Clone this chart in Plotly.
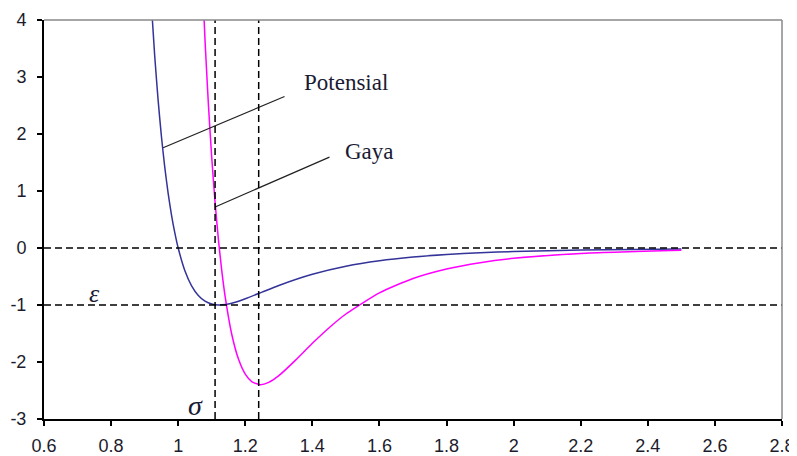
import plotly.graph_objects as go

# ---- data ----
pot_x = [0.92, 0.93, 0.94, 0.95, 0.96, 0.97, 0.98, 0.99, 1.0, 1.02, 1.04, 1.06, 1.08,
         1.1, 1.12, 1.14, 1.17, 1.2, 1.25, 1.3, 1.4, 1.5, 1.6, 1.7, 1.8, 1.9, 2.0, 2.2, 2.5]
pot_y = [4.28, 3.373, 2.607, 1.961, 1.418, 0.963, 0.582, 0.264, 0.0, -0.398, -0.663, -0.832, -0.932,
         -0.983, -1.0, -0.992, -0.952, -0.891, -0.774, -0.657, -0.461, -0.320, -0.224, -0.159, -0.114,
         -0.083, -0.0615, -0.035, -0.0163]

force_x = [1.07, 1.08, 1.09, 1.1, 1.11, 1.12, 1.13, 1.14, 1.16, 1.18, 1.2, 1.22, 1.244, 1.27,
           1.3, 1.35, 1.4, 1.45, 1.5, 1.6, 1.7, 1.8, 1.9, 2.0, 2.2, 2.5]
force_y = [4.97, 3.647, 2.529, 1.589, 0.800, 0.143, -0.402, -0.852, -1.522, -1.953, -2.212, -2.347,
           -2.397, -2.357, -2.240, -1.967, -1.672, -1.398, -1.158, -0.787, -0.536, -0.369, -0.257,
           -0.1816, -0.0945, -0.0391]

x_ticks = [0.6, 0.8, 1.0, 1.2, 1.4, 1.6, 1.8, 2.0, 2.2, 2.4, 2.6, 2.8]
x_tick_labels = ["0.6", "0.8", "1", "1.2", "1.4", "1.6", "1.8", "2", "2.2", "2.4", "2.6", "2.8"]
y_ticks = [-3, -2, -1, 0, 1, 2, 3, 4]
y_tick_labels = ["-3", "-2", "-1", "0", "1", "2", "3", "4"]

sigma_x = 1.11     # vertical reference at sigma
fmin_x = 1.24      # vertical reference at force minimum
eps_y = -1.0       # horizontal reference at epsilon
zero_y = 0.0

pot_leader = ([0.955, 1.317], [1.76, 2.657])
force_leader = ([1.11, 1.451], [0.72, 1.594])

# ---- figure ----
fig = go.Figure()

dash = "7px,4px"
for yv in (zero_y, eps_y):
    fig.add_shape(type="line", xref="paper", yref="y", x0=0, x1=1, y0=yv, y1=yv,
                  line=dict(color="black", width=1.5, dash=dash), layer="above")
for xv in (sigma_x, fmin_x):
    fig.add_shape(type="line", xref="x", yref="paper", x0=xv, x1=xv, y0=0, y1=1,
                  line=dict(color="black", width=1.5, dash=dash), layer="above")

# plot-area border (top and right) in gray
fig.add_shape(type="line", xref="paper", yref="paper", x0=0, x1=1, y0=1, y1=1,
              line=dict(color="#888888", width=1.5))
fig.add_shape(type="line", xref="paper", yref="paper", x0=1, x1=1, y0=0, y1=1,
              line=dict(color="#888888", width=1.5))

fig.add_trace(go.Scatter(x=pot_x, y=pot_y, mode="lines", name="Potensial",
                         line=dict(color="#333399", width=1.5, shape="spline", smoothing=0.6)))
fig.add_trace(go.Scatter(x=force_x, y=force_y, mode="lines", name="Gaya",
                         line=dict(color="#ff00ff", width=1.5, shape="spline", smoothing=0.6)))

fig.add_trace(go.Scatter(x=pot_leader[0], y=pot_leader[1], mode="lines", showlegend=False,
                         line=dict(color="#222222", width=1.2)))
fig.add_trace(go.Scatter(x=force_leader[0], y=force_leader[1], mode="lines", showlegend=False,
                         line=dict(color="#222222", width=1.2)))

serif = "Liberation Serif, Times New Roman, serif"
fig.add_annotation(x=1.499, y=2.9, text="Potensial", showarrow=False,
                   font=dict(family=serif, size=23, color="#1a1a33"))
fig.add_annotation(x=1.57, y=1.69, text="Gaya", showarrow=False,
                   font=dict(family=serif, size=23, color="#1a1a33"))
fig.add_annotation(x=0.752, y=-0.8, text="<i>ε</i>", showarrow=False,
                   font=dict(family=serif, size=26, color="#1a1a33"))
fig.add_annotation(x=1.052, y=-2.76, text="<i>σ</i>", showarrow=False,
                   font=dict(family=serif, size=28, color="#1a1a33"))

tickfont = dict(family="Liberation Sans, Arial, sans-serif", size=18, color="#1c1c2c")
fig.update_xaxes(range=[0.6, 2.8], tickvals=x_ticks, ticktext=x_tick_labels,
                 showgrid=False, zeroline=False, showline=True, linecolor="black", linewidth=2,
                 ticks="outside", ticklen=5, tickwidth=1.5, tickcolor="black",
                 tickfont=tickfont, ticklabelstandoff=4, automargin=False)
fig.update_yaxes(range=[-3, 4], tickvals=y_ticks, ticktext=y_tick_labels,
                 showgrid=False, zeroline=False, showline=True, linecolor="black", linewidth=2,
                 ticks="outside", ticklen=5, tickwidth=1.5, tickcolor="black",
                 tickfont=tickfont, ticklabelstandoff=7, automargin=False)

# page body has an 8px margin, so the figure is 8px smaller and margins shifted
fig.update_layout(width=789, height=448, margin=dict(l=36, r=15, t=12, b=37),
                  paper_bgcolor="white", plot_bgcolor="white", showlegend=False)

fig.write_html("out.html")
